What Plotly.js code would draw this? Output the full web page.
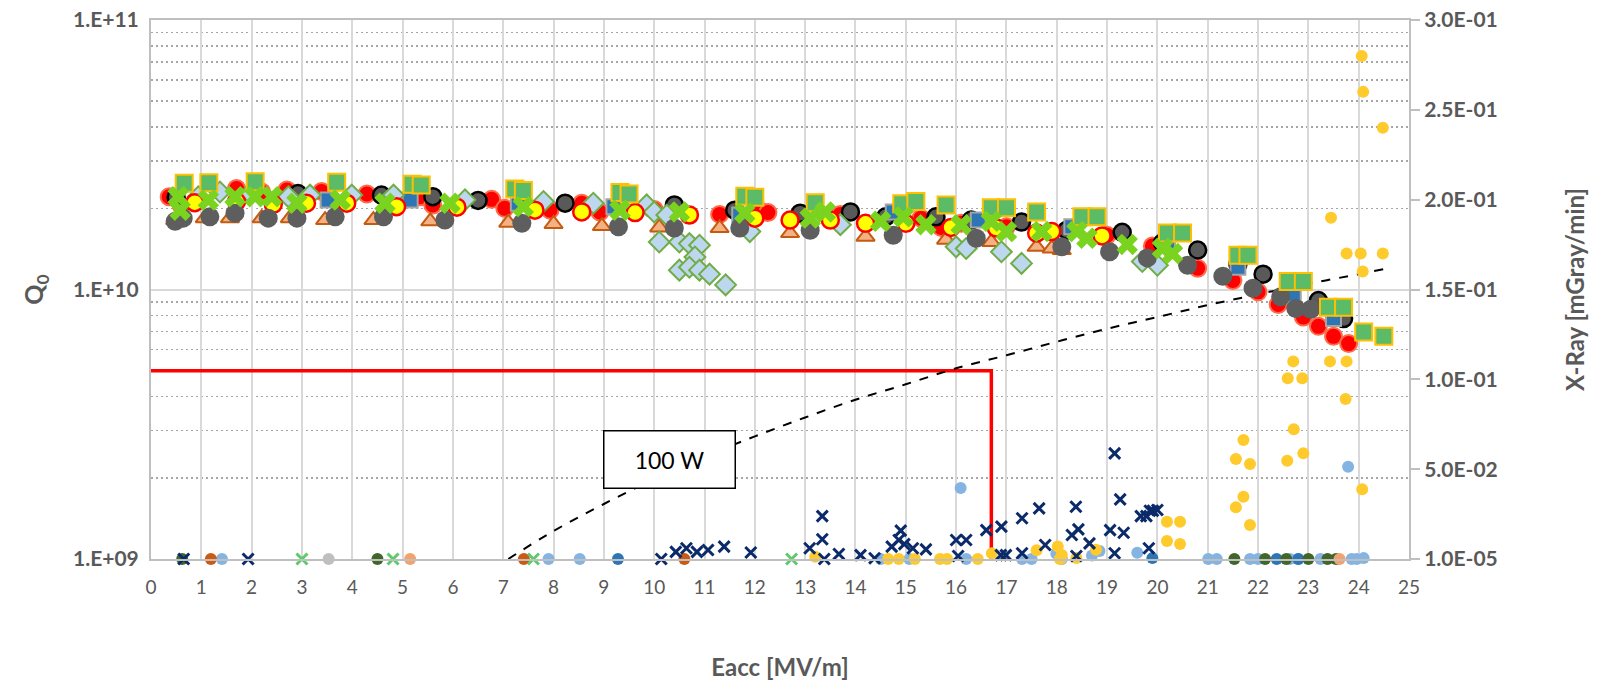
<!DOCTYPE html>
<html>
<head>
<meta charset="utf-8">
<script src="https://cdn.plot.ly/plotly-3.0.1.min.js"></script>
<style>html,body{margin:0;padding:0;background:#fff;}#chart{width:1601px;height:681px;}</style>
</head>
<body>
<div id="chart"></div>
<script>
// ---------- Q0 series (left axis, log) ----------
const greenSqX = [0.66,1.15,2.07,3.69,5.19,5.37,7.23,7.4,9.32,9.5,11.8,12.0,13.2,14.92,15.2,15.8,16.7,17.0,17.6,18.5,18.8,20.2,20.5,21.6,21.8,22.6,22.9,23.4,23.7,24.1,24.5];
const greenSqQ = [2.48e10,2.49e10,2.51e10,2.5e10,2.46e10,2.44e10,2.36e10,2.33e10,2.29e10,2.26e10,2.22e10,2.2e10,2.1e10,2.08e10,2.12e10,2.06e10,2.01e10,2.01e10,1.94e10,1.86e10,1.86e10,1.62e10,1.62e10,1.34e10,1.34e10,1.07e10,1.07e10,8.6e9,8.6e9,6.95e9,6.7e9];

const redX = [0.36,0.6,1.7,2.2,2.7,3.39,4.29,5.35,5.6,6.77,7.03,7.93,8.56,8.92,10.0,11.3,12.1,12.26,13.7,15.3,15.7,16.1,17.0,17.9,19.0,19.9,20.8,21.5,22.0,22.4,22.9,23.2,23.5,23.8];
const redQ = [2.21e10,2.05e10,2.37e10,2.3e10,2.34e10,2.31e10,2.26e10,2.21e10,2.06e10,2.16e10,2.0e10,1.97e10,2.09e10,1.94e10,1.98e10,1.9e10,1.96e10,1.93e10,1.9e10,1.84e10,1.7e10,1.76e10,1.71e10,1.64e10,1.59e10,1.45e10,1.2e10,1.08e10,9.8e9,8.8e9,7.9e9,7.3e9,6.7e9,6.3e9];

const yellowRedX = [0.87,1.7,2.43,3.09,3.89,4.88,6.08,7.63,8.56,9.62,10.7,12.0,12.7,13.5,14.2,15.0,15.9,16.8,17.6,17.9,18.9];
const yellowRedQ = [2.1e10,2.12e10,2.07e10,2.09e10,2.09e10,2.03e10,2.02e10,1.97e10,1.94e10,1.93e10,1.89e10,1.84e10,1.81e10,1.81e10,1.76e10,1.76e10,1.7e10,1.69e10,1.62e10,1.64e10,1.58e10];

const blackRimX = [0.5,2.92,4.58,5.6,6.5,8.23,10.4,11.6,12.9,13.9,14.6,15.6,16.3,17.3,18.2,19.3,20.1,20.8,21.6,22.1,23.2,23.7];
const blackRimQ = [2.2e10,2.27e10,2.24e10,2.21e10,2.14e10,2.09e10,2.06e10,1.97e10,1.92e10,1.94e10,1.86e10,1.86e10,1.81e10,1.78e10,1.66e10,1.63e10,1.49e10,1.4e10,1.24e10,1.14e10,9.1e9,7.8e9];

const greyX = [0.48,0.64,1.17,1.67,2.33,2.9,3.66,4.62,5.84,7.37,9.29,10.4,11.7,13.1,14.75,16.4,18.1,19.05,19.8,20.6,21.3,21.9,22.45,22.75,23.05];
const greyQ = [1.79e10,1.84e10,1.86e10,1.92e10,1.84e10,1.84e10,1.86e10,1.86e10,1.81e10,1.76e10,1.71e10,1.69e10,1.69e10,1.66e10,1.59e10,1.55e10,1.44e10,1.38e10,1.31e10,1.23e10,1.12e10,1.01e10,9.4e9,8.5e9,8.45e9];

const triX = [0.48,1.07,1.57,2.2,2.76,3.46,4.42,5.55,7.1,8.0,8.96,10.1,11.3,12.7,14.2,15.8,16.7,17.6,17.9,18.1];
const triQ = [1.81e10,1.84e10,1.84e10,1.84e10,1.84e10,1.81e10,1.81e10,1.79e10,1.77e10,1.75e10,1.72e10,1.7e10,1.69e10,1.62e10,1.57e10,1.53e10,1.5e10,1.44e10,1.42e10,1.4e10];

const diaX = [0.94,1.37,1.97,2.73,3.16,3.99,4.82,6.24,7.8,8.79,9.85,10.0,10.1,10.25,10.5,10.7,10.9,10.81,10.5,10.7,10.9,11.1,11.42,11.9,13.7,16.0,16.2,16.9,17.3,19.7,20.0];
const diaQ = [2.21e10,2.3e10,2.27e10,2.21e10,2.24e10,2.24e10,2.24e10,2.15e10,2.12e10,2.09e10,2.06e10,1.94e10,1.5e10,1.89e10,1.5e10,1.48e10,1.46e10,1.32e10,1.18e10,1.21e10,1.18e10,1.14e10,1.04e10,1.64e10,1.74e10,1.44e10,1.42e10,1.38e10,1.25e10,1.27e10,1.23e10];

const blueSqX = [3.52,5.15,7.3,9.2,11.7,14.75,16.44,18.3,20.2,21.6,22.7,23.5];
const blueSqQ = [2.15e10,2.15e10,2.09e10,2.03e10,1.89e10,1.94e10,1.81e10,1.71e10,1.46e10,1.21e10,9.6e9,7.8e9];

const greenXX = [0.54,0.58,1.14,1.67,2.07,2.4,2.9,3.76,4.65,5.94,7.4,9.32,10.5,11.8,13.1,13.4,14.5,14.95,15.4,16.1,16.7,17.0,17.7,18.4,18.6,19.4,20.1,20.3];
const greenXQ = [2.21e10,1.97e10,2.15e10,2.21e10,2.21e10,2.21e10,2.09e10,2.15e10,2.09e10,2.09e10,2.03e10,1.97e10,1.94e10,1.92e10,1.84e10,1.94e10,1.79e10,1.86e10,1.74e10,1.74e10,1.79e10,1.64e10,1.64e10,1.64e10,1.55e10,1.47e10,1.42e10,1.36e10];

// 100 W line
const curveX = [7.1,8,9,10,11,12,13,14,15,16,17,18,19,20,21,22,23,24,24.5];
const curveQ = [1.0e9,1.27e9,1.6e9,1.98e9,2.4e9,2.85e9,3.35e9,3.9e9,4.45e9,5.1e9,5.7e9,6.4e9,7.15e9,7.9e9,8.75e9,9.6e9,1.05e10,1.14e10,1.19e10];

// Red limit line
const limitX = [0, 16.7, 16.7];
const limitQ = [5e9, 5e9, 1e9];

// ---------- X-Ray series (right axis) ----------
const navyX = [0.65,1.93,10.14,10.43,10.64,10.85,11.07,11.39,11.92,13.09,13.34,13.34,13.38,13.67,14.1,14.38,14.72,14.86,14.9,14.97,15.14,15.4,16.0,16.2,16.04,16.6,16.9,16.89,16.99,17.31,17.31,17.65,17.77,18.38,18.43,18.3,18.65,18.39,19.15,19.26,19.06,19.33,19.15,19.67,19.78,19.85,19.91,20.0,19.83];
const navyV = [1e-5,1e-5,1e-5,0.004,0.006,0.004,0.005,0.0069,0.0036,0.006,0.011,0.0239,1e-5,0.0028,0.0022,0.0004,0.0069,0.0106,0.0158,0.0083,0.006,0.0054,0.0106,0.0106,0.0017,0.0161,0.018,0.0022,0.0022,0.0227,0.0032,0.0282,0.0078,0.0291,0.0165,0.0134,0.0087,0.0017,0.0588,0.0332,0.0161,0.0146,0.0032,0.0239,0.0239,0.0269,0.0269,0.0273,0.006];

const goldX = [13.2,14.65,14.86,15.18,15.68,15.82,16.43,16.71,17.6,18.02,18.06,18.1,18.39,18.78,20.19,20.45,20.19,20.45,21.56,21.71,21.84,21.71,21.56,21.84,22.58,22.71,22.9,22.59,22.88,22.7,23.43,23.76,23.74,24.07,23.45,23.76,24.04,24.48,24.08,24.06,24.09,24.48];
const goldV = [0.0013,1e-5,1e-5,1e-5,1e-5,1e-5,1e-5,0.0032,0.0049,0.007,1e-5,0.0022,0.0006,0.0051,0.0208,0.0208,0.010,0.0083,0.0557,0.0662,0.0529,0.0347,0.0288,0.0189,0.0547,0.0722,0.0588,0.1006,0.1006,0.11,0.11,0.11,0.089,0.0388,0.19,0.17,0.17,0.17,0.16,0.28,0.26,0.24];

const skyX = [1.41,7.9,8.52,14.5,15.07,16.09,16.2,17.31,17.5,17.99,18.1,18.7,18.85,19.6,21.01,21.18,21.84,22.0,22.63,22.8,23.24,23.79,23.86,23.96,24.1];
const skyV = [1e-5,1e-5,1e-5,1e-5,1e-5,0.0395,1e-5,1e-5,1e-5,0.003,1e-5,0.002,0.0045,0.0035,1e-5,1e-5,1e-5,1e-5,1e-5,1e-5,1e-5,0.0514,1e-5,1e-5,0.0005];

const blueX = [9.28,19.9,22.37,22.8];
const blueV = [1e-5,0.0005,1e-5,1e-5];
const darkGreenX = [0.62,4.5,21.53,22.14,22.56,23.0,23.38,23.55];
const darkGreenV = [1e-5,1e-5,1e-5,1e-5,1e-5,1e-5,1e-5,1e-5];
const rustX = [1.19,7.41,10.6];
const rustV = [1e-5,1e-5,1e-5];
const peachX = [5.15,23.62];
const peachV = [1e-5,1e-5];
const silverX = [3.53,18.1];
const silverV = [1e-5,1e-5];
const mintX = [3.0,4.81,7.6,12.73];
const mintV = [1e-5,1e-5,1e-5,1e-5];

// ---------- Axis ticks ----------
const xTicks = [0,1,2,3,4,5,6,7,8,9,10,11,12,13,14,15,16,17,18,19,20,21,22,23,24,25];
const qTickVals = [1e9,1e10,1e11];
const qTickText = ['1.E+09','1.E+10','1.E+11'];
const qMinor = [2e9,3e9,4e9,5e9,6e9,7e9,8e9,9e9,2e10,3e10,4e10,5e10,6e10,7e10,8e10,9e10];
const xrTickVals = [1e-5,0.05,0.1,0.15,0.2,0.25,0.3];
const xrTickText = ['1.0E-05','5.0E-02','1.0E-01','1.5E-01','2.0E-01','2.5E-01','3.0E-01'];

function q(x, y, symbol, size, fill, lineColor, lineWidth){
  return {x:x, y:y, type:'scatter', mode:'markers', yaxis:'y',
    marker:{symbol:symbol, size:size, color:fill, line:{color:lineColor, width:lineWidth}}, hoverinfo:'x+y'};
}
function xr(x, y, symbol, size, fill, lineColor, lineWidth){
  return {x:x, y:y, type:'scatter', mode:'markers', yaxis:'y2', cliponaxis:false,
    marker:{symbol:symbol, size:size, color:fill, line:{color:lineColor, width:lineWidth}}, hoverinfo:'x+y'};
}

const traces = [
  {x:limitX, y:limitQ, type:'scatter', mode:'lines', yaxis:'y', line:{color:'#FF0000', width:3.5}, hoverinfo:'skip'},
  {x:curveX, y:curveQ, type:'scatter', mode:'lines', yaxis:'y', line:{color:'#000000', width:2, dash:'dash', shape:'spline'}, hoverinfo:'skip'},
  q(redX, redQ, 'circle', 17, '#FF0000', '#FF6B4A', 2),
  q(blackRimX, blackRimQ, 'circle', 17, '#595959', '#000000', 2.5),
  q(triX, triQ, 'triangle-up', 16, '#F4B183', '#C55A11', 2),
  q(blueSqX, blueSqQ, 'square', 15, '#2E75B6', '#A5A5A5', 2),
  q(diaX, diaQ, 'diamond', 16, '#BDD7EE', '#70AD47', 2),
  q(yellowRedX, yellowRedQ, 'circle', 17, '#FFFF00', '#FF0000', 2.5),
  q(greyX, greyQ, 'circle', 19, '#5E5E5E', '#5E5E5E', 0),
  q(greenSqX, greenSqQ, 'square', 17, '#5CBB67', '#FFC000', 2),
  q(greenXX, greenXQ, 'x', 19, '#7AD31F', '#7AD31F', 0),
  xr(skyX, skyV, 'circle', 12, '#85B4E3', '#85B4E3', 0),
  xr(blueX, blueV, 'circle', 12, '#2E75B6', '#2E75B6', 0),
  xr(darkGreenX, darkGreenV, 'circle', 12, '#406629', '#406629', 0),
  xr(rustX, rustV, 'circle', 12, '#CC5A13', '#CC5A13', 0),
  xr(peachX, peachV, 'circle', 12, '#F4A26B', '#F4A26B', 0),
  xr(silverX, silverV, 'circle', 12, '#BFBFBF', '#BFBFBF', 0),
  xr(goldX, goldV, 'circle', 12, '#FFCA2C', '#FFCA2C', 0),
  xr(mintX, mintV, 'x-thin-open', 11, '#5CCB6A', '#5CCB6A', 3),
  xr(navyX, navyV, 'x-thin-open', 11, '#0B2A6A', '#0B2A6A', 3)
];

const layout = {
  width:1601, height:681,
  margin:{l:151, r:192, t:20, b:122},
  paper_bgcolor:'#ffffff', plot_bgcolor:'#ffffff',
  showlegend:false,
  font:{family:'Lato, "Open Sans", sans-serif', color:'#595959'},
  xaxis:{
    range:[0,25], tickmode:'array', tickvals:xTicks,
    showgrid:true, gridcolor:'#D9D9D9', gridwidth:2,
    showline:true, linecolor:'#BFBFBF', linewidth:2, mirror:true,
    zeroline:false, ticks:'', ticklabelstandoff:10,
    tickfont:{size:19, color:'#595959'},
    title:{text:'<b>Eacc [MV/m]</b>', font:{size:24, color:'#595959'}, standoff:72}
  },
  yaxis:{
    type:'log', range:[9,11], tickmode:'array', tickvals:qTickVals, ticktext:qTickText,
    showgrid:true, gridcolor:'#D9D9D9', gridwidth:2,
    showline:true, linecolor:'#BFBFBF', linewidth:2, zeroline:false, ticks:'',
    ticklabelstandoff:6,
    tickfont:{size:21, color:'#595959', weight:'bold'},
    minor:{tickmode:'array', tickvals:qMinor, showgrid:true, gridcolor:'#A6A6A6', griddash:'2px,3px', gridwidth:1.5, ticks:''},
    title:{text:'<b>Q<sub>0</sub></b>', font:{size:25, color:'#595959'}, standoff:22}
  },
  yaxis2:{
    overlaying:'y', side:'right', anchor:'x', range:[1e-5,0.3],
    tickmode:'array', tickvals:xrTickVals, ticktext:xrTickText,
    showgrid:false, zeroline:false,
    showline:true, linecolor:'#BFBFBF', linewidth:2,
    ticks:'outside', ticklen:9, tickwidth:2, tickcolor:'#BFBFBF',
    tickfont:{size:21, color:'#595959', weight:'bold'},
    title:{text:'<b>X-Ray [mGray/min]</b>', font:{size:24, color:'#595959'}, standoff:70}
  },
  annotations:[{
    xref:'x', yref:'y', x:10.31, y:9.371, text:'100 W', showarrow:false,
    font:{size:23, color:'#000000', family:'Lato, sans-serif'},
    bgcolor:'#ffffff', bordercolor:'#000000', borderwidth:1.5,
    width:128, height:54
  }]
};

Plotly.newPlot('chart', traces, layout, {displayModeBar:false, staticPlot:true});
</script>
</body>
</html>
